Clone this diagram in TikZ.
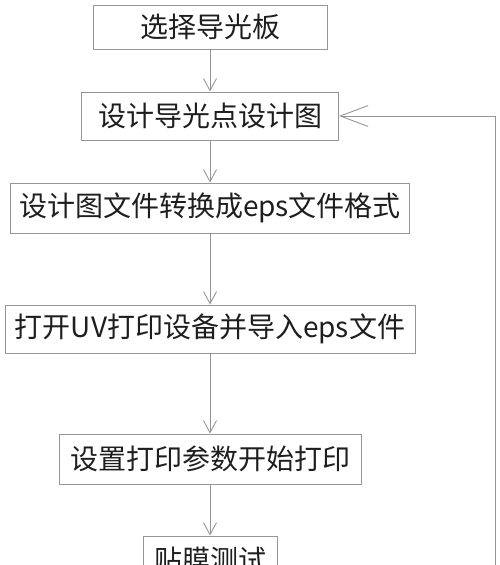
\documentclass[tikz,border=0pt]{standalone}
\usepackage{fontspec}
\usepackage{tikz}
\usetikzlibrary{arrows.meta}
\setmainfont{Noto Sans CJK SC}
\definecolor{linegray}{RGB}{150,150,150}
\definecolor{textgray}{RGB}{30,30,30}

\begin{document}
\begin{tikzpicture}[x=1pt,y=-1pt,
        stepbox/.style={draw=linegray,line width=0.9pt,text=textgray,inner sep=0pt,
            minimum height=48pt,font=\fontsize{28}{32}\selectfont},
        flow/.style={draw=linegray,line width=0.9pt,-{Straight Barb[length=12pt,width=13pt]}}]
        \useasboundingbox (0,0) rectangle (500,565);
        \clip (0,0) rectangle (500,565);
        \coordinate (c1) at (210,27);
        \coordinate (c2) at (210,116);
        \coordinate (c3) at (210,208);
        \coordinate (c4) at (210,329);
        \coordinate (c5) at (210,459);
        \coordinate (c6) at (210,560);
        \coordinate (back) at (495,570);

        \node[stepbox,minimum width=234pt,minimum height=44pt] (s1) at (c1) {选择导光板};
        \node[stepbox,minimum width=257pt] (s2) at (c2) {设计导光点设计图};
        \node[stepbox,minimum width=399pt,minimum height=50pt] (s3) at (c3) {设计图文件转换成eps文件格式};
        \node[stepbox,minimum width=410pt] (s4) at (c4) {打开UV打印设备并导入eps文件};
        \node[stepbox,minimum width=302pt,minimum height=50pt] (s5) at (c5) {设置打印参数开始打印};
        \node[stepbox,minimum width=134pt] (s6) at (c6) {贴膜测试};
        \draw[flow] (s1) -- (s2);
        \draw[flow] (s2) -- (s3);
        \draw[flow] (s3) -- (s4);
        \draw[flow] (s4) -- (s5);
        \draw[flow] (s5) -- (s6);
        \draw[draw=linegray,line width=0.9pt,-{Straight Barb[length=28pt,width=21pt]}] (back) |- (s2.east);
    \end{tikzpicture}
\end{document}
